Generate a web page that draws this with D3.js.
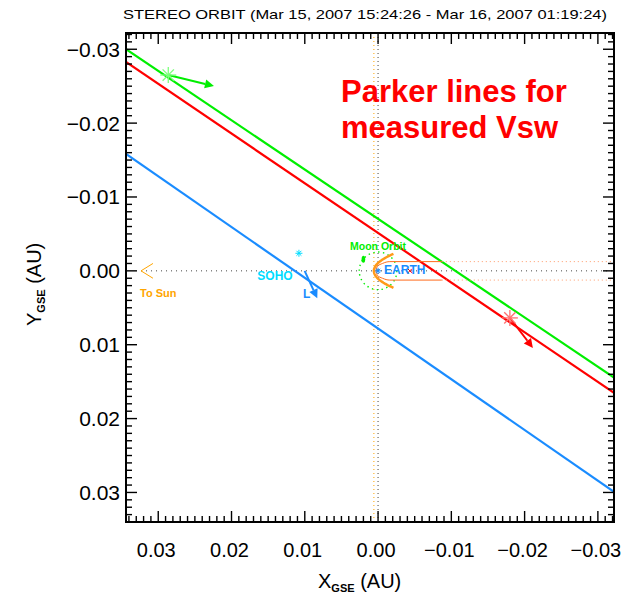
<html>
<head>
<script src="https://d3js.org/d3.v7.min.js"></script>
<style>
  body { margin: 0; background: #fff; }
  text { font-family: "Liberation Sans", Arial, sans-serif; }
</style>
</head>
<body>
<svg id="chart" width="635" height="601"></svg>
<script>
// ---- data (AU, GSE) ----
var xDomain = [0.0344, -0.0322];
var yDomain = [-0.0322, 0.0340];
var majorTicks = [-0.03, -0.02, -0.01, 0.00, 0.01, 0.02, 0.03];
var tickLabels = ["\u22120.03", "\u22120.02", "\u22120.01", "0.00", "0.01", "0.02", "0.03"];

// Parker lines: y at the left and right edge of the box
var parkerX = [0.0344, -0.0322];
var parkerGreenY = [-0.0300, 0.01445];
var parkerRedY = [-0.02827, 0.01652];
var parkerBlueY = [-0.01582, 0.02993];

// spacecraft positions and arrow tips
var stereoAPos = [0.02863, -0.02651];
var stereoATip = [0.0224, -0.02502];
var stereoBPos = [-0.01799, 0.00637];
var stereoBTip = [-0.02113, 0.01043];
var sohoPos = [0.01080, -0.00238];
var l1Pos = [0.01002, 0.0];
var l1Tip = [0.00830, 0.00371];
var earthPos = [0.0, 0.0];
var redMarkPos = [-0.00434, 0.0];
var moonPos = [0.0020, -0.00158];
var moonOrbitR = 0.00257;
var bowNoseX = 0.00057;
var bowEnd = [-0.0021, 0.0023];
var tailTop = [[0.0003, 0], [0.0001, -0.0006], [-0.0006, -0.0010], [-0.0016, -0.00125], [-0.0087, -0.00125]];
var tailBot = [[0.0003, 0], [0.0001, 0.0006], [-0.0006, 0.0010], [-0.0016, 0.00125], [-0.0087, 0.00125]];
var tailEndX = -0.0087;
var sunTip = [0.03235, 0.0];
var sunArm = [0.03072, 0.0010];

var svg = d3.select("#chart");
var boxL = 126, boxR = 614, boxT = 33, boxB = 522;
var x = d3.scaleLinear().domain(xDomain).range([boxL, boxR]);
var y = d3.scaleLinear().domain(yDomain).range([boxT, boxB]);

var green = "#00ee00", red = "#ff0000", blue = "#1a8cff", cyan = "#00dcff", orange = "#ffa500";

/* titulo */
svg.append("text")
  .attr("x", 365).attr("y", 19)
  .attr("text-anchor", "middle")
  .attr("textLength", 484).attr("lengthAdjust", "spacingAndGlyphs")
  .style("font-size", "13.5px")
  .text("STEREO ORBIT (Mar 15, 2007 15:24:26 - Mar 16, 2007 01:19:24)");

var plot = svg.append("g");
svg.append("clipPath").attr("id", "clip").append("rect")
  .attr("x", boxL).attr("y", boxT).attr("width", boxR - boxL).attr("height", boxB - boxT);
plot.attr("clip-path", "url(#clip)");

/* lineas punteadas: Sun-Earth y x=0 */
plot.append("line")
  .attr("x1", x(sunTip[0])).attr("x2", x(xDomain[1]))
  .attr("y1", y(0)).attr("y2", y(0))
  .attr("stroke", "#444").attr("stroke-width", 1).attr("stroke-dasharray", "1,4");
plot.append("line")
  .attr("x1", x(0)).attr("x2", x(0))
  .attr("y1", boxT).attr("y2", boxB)
  .attr("stroke", "#444").attr("stroke-width", 1).attr("stroke-dasharray", "1,3");
plot.append("line")
  .attr("x1", x(bowNoseX)).attr("x2", x(bowNoseX))
  .attr("y1", boxT).attr("y2", boxB)
  .attr("stroke", orange).attr("stroke-width", 1).attr("stroke-dasharray", "1,3");

/* Parker lines */
var parker = [[parkerGreenY, green], [parkerRedY, red], [parkerBlueY, blue]];
parker.forEach(function(p) {
  plot.append("line")
    .attr("x1", x(parkerX[0])).attr("y1", y(p[0][0]))
    .attr("x2", x(parkerX[1])).attr("y2", y(p[0][1]))
    .attr("stroke", p[1]).attr("stroke-width", 2.2);
});

/* "To Sun" */
plot.append("path")
  .attr("d", d3.line()([[x(sunArm[0]), y(-sunArm[1])], [x(sunTip[0]), y(sunTip[1])], [x(sunArm[0]), y(sunArm[1])]]))
  .attr("fill", "none").attr("stroke", orange).attr("stroke-width", 1);
plot.append("text").attr("x", x(sunTip[0]) - 1).attr("y", 297)
  .style("font-size", "11px").style("font-weight", "bold").attr("fill", orange).text("To Sun");

/* moon orbit + moon */
plot.append("circle")
  .attr("cx", x(earthPos[0])).attr("cy", y(earthPos[1]))
  .attr("r", x(0) - x(moonOrbitR))
  .attr("fill", "none").attr("stroke", green).attr("stroke-width", 1.4).attr("stroke-dasharray", "1.4,3.5");
plot.append("ellipse")
  .attr("cx", x(moonPos[0])).attr("cy", y(moonPos[1]))
  .attr("rx", 1.8).attr("ry", 3.5).attr("fill", green);
plot.append("text").attr("x", x(earthPos[0])).attr("y", 250).attr("text-anchor", "middle")
  .style("font-size", "10.5px").style("font-weight", "bold").attr("fill", green).text("Moon Orbit");

/* bow shock y magnetopausa */
var k = (bowNoseX - bowEnd[0]) / (bowEnd[1] * bowEnd[1]);
var bowPts = d3.range(-bowEnd[1], bowEnd[1] + 1e-6, bowEnd[1] / 20).map(function(v) {
  return [x(bowNoseX - k * v * v), y(v)];
});
plot.append("path").attr("d", d3.line()(bowPts))
  .attr("fill", "none").attr("stroke", "#ff9a1a").attr("stroke-width", 2.5);
[tailTop, tailBot].forEach(function(t) {
  plot.append("path")
    .attr("d", d3.line().curve(d3.curveMonotoneX)(t.map(function(d) { return [x(d[0]), y(d[1])]; }).reverse()))
    .attr("fill", "none").attr("stroke", "#ff6a1a").attr("stroke-width", 1);
  plot.append("line")
    .attr("x1", x(tailEndX)).attr("x2", x(xDomain[1]))
    .attr("y1", y(t[4][1])).attr("y2", y(t[4][1]))
    .attr("stroke", "#ff9a66").attr("stroke-width", 1).attr("stroke-dasharray", "1,3");
});

/* Earth */
asterisk(earthPos, 3, blue, 1);
plot.append("path")
  .attr("d", "M" + (x(redMarkPos[0]) - 2) + "," + (y(0) - 2) + "l4,4m0,-4l-4,4")
  .attr("stroke", red).attr("stroke-width", 1);
plot.append("text").attr("x", x(earthPos[0]) + 6).attr("y", 274)
  .style("font-size", "12px").style("font-weight", "bold").attr("fill", blue).text("EARTH");

/* SOHO y L1 */
asterisk(sohoPos, 3.5, cyan, 1);
plot.append("text").attr("x", 275).attr("y", 280).attr("text-anchor", "middle")
  .style("font-size", "12px").style("font-weight", "bold").attr("fill", cyan).text("SOHO");
arrow(l1Pos, l1Tip, blue);
plot.append("text").attr("x", 303).attr("y", 298)
  .style("font-size", "12px").style("font-weight", "bold").attr("fill", blue).text("L");

/* STEREO A y B */
arrow(stereoAPos, stereoATip, green);
asterisk(stereoAPos, 8, "#7dff7d", 1.3);
arrow(stereoBPos, stereoBTip, red);
asterisk(stereoBPos, 8, "#ff7070", 1.3);

/* texto rojo */
var big = svg.append("text").attr("fill", red)
  .style("font-size", "31px").style("font-weight", "bold");
big.append("tspan").attr("x", 341).attr("y", 102).text("Parker lines for");
big.append("tspan").attr("x", 341).attr("y", 138).text("measured Vsw");

/* marco y ticks */
svg.append("rect").attr("x", boxL).attr("y", boxT)
  .attr("width", boxR - boxL).attr("height", boxB - boxT)
  .attr("fill", "none").attr("stroke", "#000").attr("stroke-width", 2);

var minorX = d3.range(-32, 35).map(function(i) { return i / 1000; });
var minorY = d3.range(-32, 35).map(function(i) { return i / 1000; });
function isMajor(v) { return Math.abs(v * 100 - Math.round(v * 100)) < 1e-6; }
var tickG = svg.append("g").attr("stroke", "#000").attr("stroke-width", 1.4);
minorX.forEach(function(v) {
  var len = isMajor(v) ? 11 : 6;
  tickG.append("line").attr("x1", x(v)).attr("x2", x(v)).attr("y1", boxB).attr("y2", boxB - len);
  tickG.append("line").attr("x1", x(v)).attr("x2", x(v)).attr("y1", boxT).attr("y2", boxT + len);
});
minorY.forEach(function(v) {
  var len = isMajor(v) ? 11 : 6;
  tickG.append("line").attr("y1", y(v)).attr("y2", y(v)).attr("x1", boxL).attr("x2", boxL + len);
  tickG.append("line").attr("y1", y(v)).attr("y2", y(v)).attr("x1", boxR).attr("x2", boxR - len);
});

/* tick labels */
majorTicks.forEach(function(v, i) {
  svg.append("text").attr("x", 120).attr("y", y(v) + 7.5)
    .attr("text-anchor", "end").style("font-size", "21px").text(tickLabels[i]);
  svg.append("text").attr("x", x(v) - 2).attr("y", 557)
    .attr("text-anchor", "middle").style("font-size", "20px").text(tickLabels[i]);
});

/* titulos de ejes */
var xt = svg.append("text").attr("x", 318).attr("y", 588).style("font-size", "20px");
xt.append("tspan").text("X");
xt.append("tspan").attr("dy", 4).style("font-size", "11px").style("font-weight", "bold").text("GSE");
xt.append("tspan").attr("dy", -4).text(" (AU)");
var yt = svg.append("text").attr("transform", "translate(41,326) rotate(-90)").style("font-size", "20px");
yt.append("tspan").text("Y");
yt.append("tspan").attr("dy", 4).style("font-size", "11px").style("font-weight", "bold").text("GSE");
yt.append("tspan").attr("dy", -4).text(" (AU)");

function asterisk(p, r, color, w) {
  var cx = x(p[0]), cy = y(p[1]);
  [0, 45, 90, 135].forEach(function(a) {
    var dx = r * Math.cos(a * Math.PI / 180), dy = r * Math.sin(a * Math.PI / 180);
    plot.append("line").attr("x1", cx - dx).attr("y1", cy - dy).attr("x2", cx + dx).attr("y2", cy + dy)
      .attr("stroke", color).attr("stroke-width", w);
  });
}

function arrow(from, to, color) {
  var x1 = x(from[0]), y1 = y(from[1]), x2 = x(to[0]), y2 = y(to[1]);
  var ang = Math.atan2(y2 - y1, x2 - x1), hl = 9, hw = 4.5;
  var bx = x2 - hl * Math.cos(ang), by = y2 - hl * Math.sin(ang);
  plot.append("line").attr("x1", x1).attr("y1", y1).attr("x2", bx).attr("y2", by)
    .attr("stroke", color).attr("stroke-width", 2);
  plot.append("path")
    .attr("d", d3.line()([[x2, y2], [bx - hw * Math.sin(ang), by + hw * Math.cos(ang)], [bx + hw * Math.sin(ang), by - hw * Math.cos(ang)]]) + "Z")
    .attr("fill", color);
}
</script>
</body>
</html>
